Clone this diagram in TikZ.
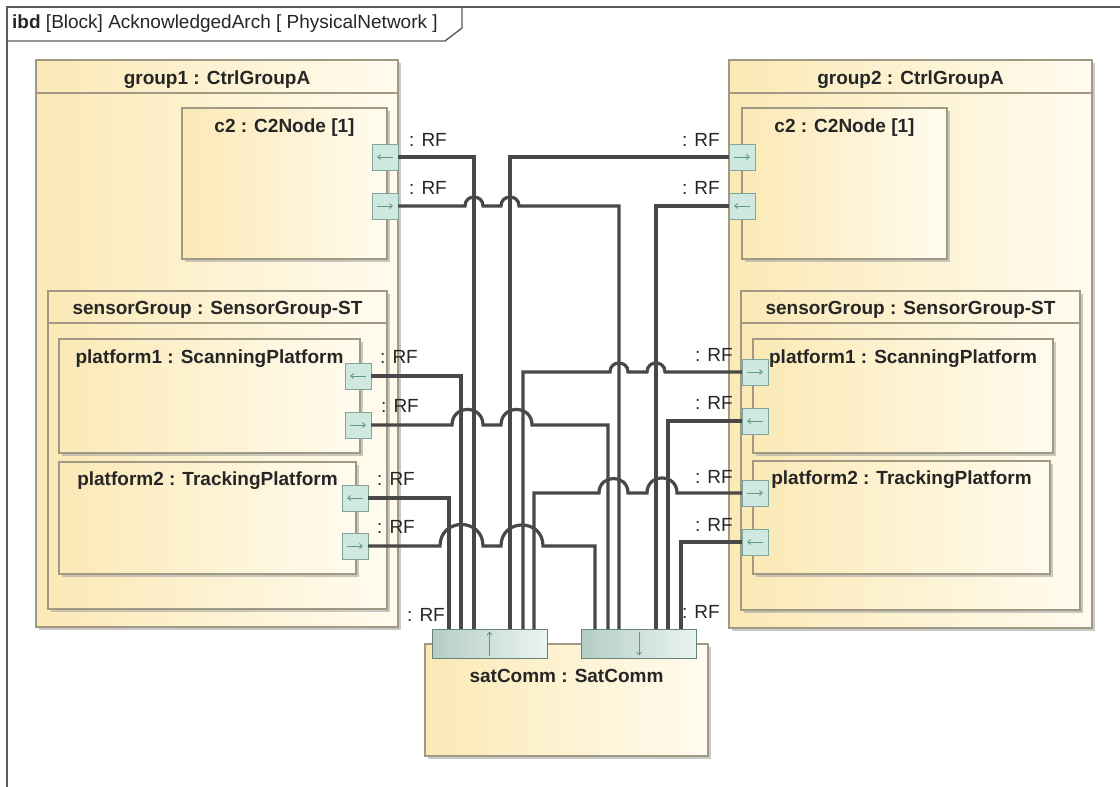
\documentclass[tikz,border=0pt]{standalone}
\usepackage{fontspec}
\setmainfont{Liberation Sans}
\usepackage{tikz}
\usetikzlibrary{arrows.meta,positioning,shadows}
\definecolor{blkdeep}{HTML}{FBE9B6}
\definecolor{blkpale}{HTML}{FFFBEE}
\definecolor{blkedge}{HTML}{A09A84}
\definecolor{portfill}{HTML}{CFE8E0}
\definecolor{portedge}{HTML}{7FA698}
\definecolor{portink}{HTML}{5E9A86}
\definecolor{satdeep}{HTML}{B5CDC5}
\definecolor{satpale}{HTML}{EAF4F0}
\definecolor{wireink}{HTML}{484848}
\definecolor{frameink}{HTML}{5A5A5A}
\tikzset{
  blockbox/.style={
    rectangle, draw=blkedge, line width=1.3pt,
    left color=blkdeep, right color=blkpale,
    drop shadow={shadow xshift=3pt, shadow yshift=-3pt, fill=black!35, opacity=.6},
    inner sep=0pt, outer sep=0pt
  },
  blocktitle/.style={font=\fontsize{19}{22}\selectfont\bfseries, text=black!85,
    inner sep=0pt, anchor=base},
  portbox/.style={rectangle, draw=portedge, fill=portfill, line width=1pt,
    minimum size=26pt, inner sep=0pt, outer sep=0pt},
  satport/.style={rectangle, draw=portedge!80!black, line width=1pt,
    left color=satdeep, right color=satpale,
    minimum width=115pt, minimum height=29pt, inner sep=0pt, outer sep=0pt},
  portarrow/.style={-{Straight Barb[length=3pt,width=5pt]}, portink, line width=.9pt},
  wire/.style={wireink, line width=3.2pt},
  rflabel/.style={font=\fontsize{19}{22}\selectfont, text=black!85, inner sep=0pt},
  frameline/.style={frameink, line width=1.4pt},
}
% jump of a wire over the vertical wires between #1 and #2, at height #3
\newcommand\hop[3]{-- (#1,#3) .. controls (#1,{#3-0.667*abs(#2-#1)}) and (#2,{#3-0.667*abs(#2-#1)}) .. (#2,#3)}

\begin{document}
\begin{tikzpicture}[x=1pt, y=-1pt]
  \fill[white] (0,0) rectangle (1120,787);
  \useasboundingbox (0,0) rectangle (1120,787);
  % frame
  \draw[frameline] (7,787) -- (7,7) -- (1120,7);
  \draw[frameline] (7,41) -- (445,41) -- (462,28) -- (462,7);
  \node[rflabel, anchor=west] (diagtitle) at (12,24)
    {\textbf{ibd} [Block] AcknowledgedArch [ PhysicalNetwork ]};
  % group1
  \node[blockbox, minimum width=362pt, minimum height=567pt] (group1) at (217,343.5) {};
  \draw[blkedge, line width=1.3pt] ([yshift=-33pt]group1.north west) -- ([yshift=-33pt]group1.north east);
  \node[blocktitle] (group1t) at ([yshift=-24pt]group1.north) {group1 : CtrlGroupA};
  \node[blockbox, minimum width=205pt, minimum height=151pt] (c2L) at (284.5,183.5) {};
  \node[blocktitle] (c2Lt) at ([yshift=-24pt]c2L.north) {c2 : C2Node [1]};
  \node[blockbox, minimum width=339pt, minimum height=318pt] (sgL) at (217.5,450) {};
  \draw[blkedge, line width=1.3pt] ([yshift=-32pt]sgL.north west) -- ([yshift=-32pt]sgL.north east);
  \node[blocktitle] (sgLt) at ([yshift=-23pt]sgL.north) {sensorGroup : SensorGroup-ST};
  \node[blockbox, minimum width=301pt, minimum height=114pt] (p1L) at (209.5,396) {};
  \node[blocktitle] (p1Lt) at ([yshift=-24pt]p1L.north) {platform1 : ScanningPlatform};
  \node[blockbox, minimum width=297pt, minimum height=112pt] (p2L) at (207.5,518) {};
  \node[blocktitle] (p2Lt) at ([yshift=-23pt]p2L.north) {platform2 : TrackingPlatform};
  % group2
  \node[blockbox, minimum width=363pt, minimum height=568pt] (group2) at (910.5,344) {};
  \draw[blkedge, line width=1.3pt] ([yshift=-33pt]group2.north west) -- ([yshift=-33pt]group2.north east);
  \node[blocktitle] (group2t) at ([yshift=-24pt]group2.north) {group2 : CtrlGroupA};
  \node[blockbox, minimum width=205pt, minimum height=151pt] (c2R) at (844.5,183.5) {};
  \node[blocktitle] (c2Rt) at ([yshift=-24pt]c2R.north) {c2 : C2Node [1]};
  \node[blockbox, minimum width=339pt, minimum height=319pt] (sgR) at (910.5,450.5) {};
  \draw[blkedge, line width=1.3pt] ([yshift=-32pt]sgR.north west) -- ([yshift=-32pt]sgR.north east);
  \node[blocktitle] (sgRt) at ([yshift=-23pt]sgR.north) {sensorGroup : SensorGroup-ST};
  \node[blockbox, minimum width=300pt, minimum height=114pt] (p1R) at (903,396) {};
  \node[blocktitle] (p1Rt) at ([yshift=-24pt]p1R.north) {platform1 : ScanningPlatform};
  \node[blockbox, minimum width=297pt, minimum height=113pt] (p2R) at (901.5,517.5) {};
  \node[blocktitle] (p2Rt) at ([yshift=-23pt]p2R.north) {platform2 : TrackingPlatform};
  % satComm
  \node[blockbox, minimum width=283pt, minimum height=112pt] (sat) at (566.5,700) {};
  \node[blocktitle] (satt) at ([yshift=-38pt]sat.north) {satComm : SatComm};
  \node[satport] (satL) at (489.5,643.5) {};
  \node[satport] (satR) at (639,643.5) {};
  \draw[portarrow] ([yshift=-12pt]satL.center) -- ([yshift=12pt]satL.center);
  \draw[portarrow] ([yshift=12pt]satR.center) -- ([yshift=-12pt]satR.center);
  % ports
  \node[portbox] (c2La) at (385,157) {};
  \node[portbox] (c2Lb) at (385,206) {};
  \node[portbox] (c2Ra) at (742,157) {};
  \node[portbox] (c2Rb) at (742,206) {};
  \node[portbox] (p1La) at (358,376) {};
  \node[portbox] (p1Lb) at (358,425) {};
  \node[portbox] (p2La) at (355,498) {};
  \node[portbox] (p2Lb) at (355,546) {};
  \node[portbox] (p1Ra) at (755,372) {};
  \node[portbox] (p1Rb) at (755,421) {};
  \node[portbox] (p2Ra) at (755,493) {};
  \node[portbox] (p2Rb) at (755,542) {};
  \draw[portarrow] ([xshift=8pt]c2La.center) -- ([xshift=-8pt]c2La.center);
  \draw[portarrow] ([xshift=-8pt]c2Lb.center) -- ([xshift=8pt]c2Lb.center);
  \draw[portarrow] ([xshift=-8pt]c2Ra.center) -- ([xshift=8pt]c2Ra.center);
  \draw[portarrow] ([xshift=8pt]c2Rb.center) -- ([xshift=-8pt]c2Rb.center);
  \draw[portarrow] ([xshift=8pt]p1La.center) -- ([xshift=-8pt]p1La.center);
  \draw[portarrow] ([xshift=-8pt]p1Lb.center) -- ([xshift=8pt]p1Lb.center);
  \draw[portarrow] ([xshift=8pt]p2La.center) -- ([xshift=-8pt]p2La.center);
  \draw[portarrow] ([xshift=-8pt]p2Lb.center) -- ([xshift=8pt]p2Lb.center);
  \draw[portarrow] ([xshift=-8pt]p1Ra.center) -- ([xshift=8pt]p1Ra.center);
  \draw[portarrow] ([xshift=8pt]p1Rb.center) -- ([xshift=-8pt]p1Rb.center);
  \draw[portarrow] ([xshift=-8pt]p2Ra.center) -- ([xshift=8pt]p2Ra.center);
  \draw[portarrow] ([xshift=8pt]p2Rb.center) -- ([xshift=-8pt]p2Rb.center);
  % RF labels
  \node[rflabel, anchor=west] (rfc2La) at (409,140) {: RF};
  \node[rflabel, anchor=west] (rfc2Lb) at (409,188) {: RF};
  \node[rflabel, anchor=east] (rfc2Ra) at (720,140) {: RF};
  \node[rflabel, anchor=east] (rfc2Rb) at (720,188) {: RF};
  \node[rflabel, anchor=west] (rfp1La) at (380,357) {: RF};
  \node[rflabel, anchor=west] (rfp1Lb) at (381,406) {: RF};
  \node[rflabel, anchor=west] (rfp2La) at (377,479) {: RF};
  \node[rflabel, anchor=west] (rfp2Lb) at (377,527) {: RF};
  \node[rflabel, anchor=east] (rfp1Ra) at (733,355) {: RF};
  \node[rflabel, anchor=east] (rfp1Rb) at (733,403) {: RF};
  \node[rflabel, anchor=east] (rfp2Ra) at (733,477) {: RF};
  \node[rflabel, anchor=east] (rfp2Rb) at (733,525) {: RF};
  \node[rflabel, anchor=west] (rfsatL) at (407,615) {: RF};
  \node[rflabel, anchor=east] (rfsatR) at (720,612) {: RF};
  % connectors c2
  \draw[wire] (c2La.east) -| (474,0 |- satL.north);
  \draw[wire] (c2Ra.west) -| (510,0 |- satL.north);
  \draw[wire] (c2Lb.east) \hop{465}{483}{206} \hop{501}{519}{206} -| (619,0 |- satR.north);
  \draw[wire] (c2Rb.west) -| (656,0 |- satR.north);
  % connectors platform1
  \draw[wire] (p1La.east) -| (461,0 |- satL.north);
  \draw[wire] (p1Lb.east) \hop{452}{483}{425} \hop{501}{532}{425} -| (608,0 |- satR.north);
  \draw[wire] (p1Ra.west) \hop{665}{647}{372} \hop{628}{610}{372} -| (523,0 |- satL.north);
  \draw[wire] (p1Rb.west) -| (668,0 |- satR.north);
  % connectors platform2
  \draw[wire] (p2La.east) -| (449,0 |- satL.north);
  \draw[wire] (p2Lb.east) \hop{440}{483}{546} \hop{501}{543}{546} -| (595,0 |- satR.north);
  \draw[wire] (p2Ra.west) \hop{677}{647}{493} \hop{628}{599}{493} -| (534,0 |- satL.north);
  \draw[wire] (p2Rb.west) -| (681,0 |- satR.north);
\end{tikzpicture}
\end{document}
